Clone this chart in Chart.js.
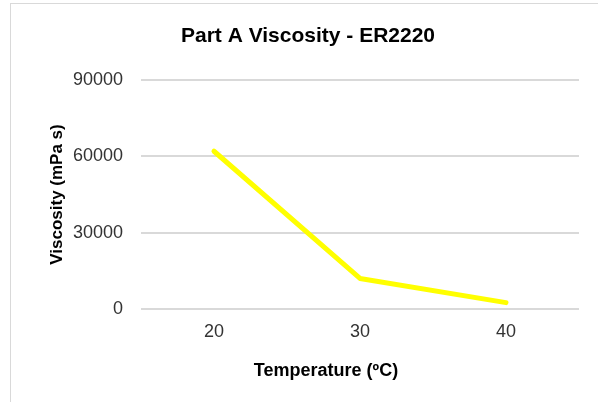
<!DOCTYPE html>
<html>
<head>
<meta charset="utf-8">
<script src="https://cdn.jsdelivr.net/npm/chart.js@4"></script>
<style>
  html, body { margin: 0; padding: 0; background: #fff; overflow: hidden; }
  #wrap { position: relative; width: 598px; height: 402px; }
  #frame { position: absolute; left: 10px; top: 3px; width: 700px; height: 500px; border: 1px solid #d9d9d9; }
  #chart { position: absolute; left: 0; top: 0; }
</style>
</head>
<body>
<div id="wrap">
  <div id="frame"></div>
  <canvas id="chart" width="598" height="402"></canvas>
</div>
<script>
const temperatures = ['20', '30', '40'];
const viscosity = [62000, 12000, 2500];
const yTicks = [0, 30000, 60000, 90000];

const chartTitle = 'Part A Viscosity - ER2220';
const xTitle = 'Temperature (ºC)';
const yTitle = 'Viscosity (mPa s)';

const font = "'Liberation Sans', Arial, sans-serif";

// Excel placed the chart title and x title off-centre, so draw them by hand
const titles = {
    id: 'titles',
    afterDraw(chart) {
        const ctx = chart.ctx;
        const area = chart.chartArea;
        ctx.save();
        ctx.fillStyle = '#000';
        ctx.textAlign = 'center';
        ctx.textBaseline = 'alphabetic';
        ctx.font = 'bold 21px ' + font;
        ctx.fillText(chartTitle, 308, 42);
        ctx.font = 'bold 18px ' + font;
        ctx.fillText(xTitle, area.left + 185, 376);
        ctx.restore();
    }
};

new Chart(document.getElementById('chart'), {
    type: 'line',
    data: {
        labels: temperatures,
        datasets: [{
            data: viscosity,
            borderColor: '#ffff00',
            borderWidth: 5,
            borderCapStyle: 'round',
            borderJoinStyle: 'round',
            pointRadius: 0,
            tension: 0,
            fill: false
        }]
    },
    options: {
        responsive: false,
        animation: false,
        layout: { padding: { left: 0, right: 19, top: 80, bottom: 0 } },
        plugins: {
            legend: { display: false },
            title: { display: false },
            tooltip: { enabled: false }
        },
        scales: {
            x: {
                offset: true,
                grid: { display: false, drawTicks: false },
                border: { display: false },
                ticks: { color: '#333', font: { family: font, size: 18 }, padding: 12 },
                afterFit(scale) { scale.height = 93; }
            },
            y: {
                min: 0,
                max: 90000,
                afterBuildTicks(scale) { scale.ticks = yTicks.map(v => ({ value: v })); },
                grid: { color: '#d9d9d9', lineWidth: 2, drawTicks: false },
                border: { display: false },
                ticks: {
                    color: '#333',
                    font: { family: font, size: 18 },
                    padding: 18,
                    callback: v => String(v)
                },
                title: {
                    display: true,
                    text: yTitle,
                    color: '#000',
                    font: { family: font, size: 17, weight: 'bold' },
                    padding: { top: 47, bottom: 0 }
                },
                afterFit(scale) { scale.width = 141; }
            }
        }
    },
    plugins: [titles]
});
</script>
</body>
</html>
